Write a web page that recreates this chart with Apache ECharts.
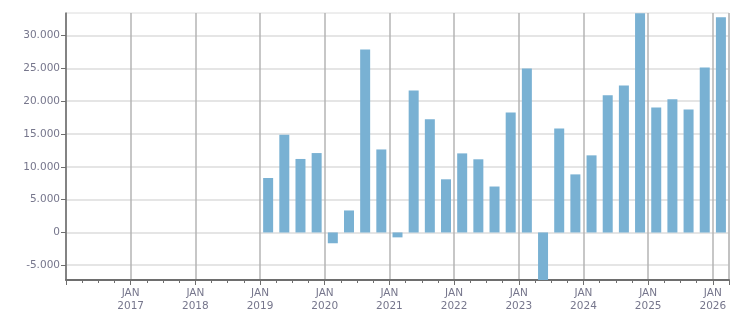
<!DOCTYPE html>
<html>
<head>
<meta charset="utf-8">
<script src="https://cdn.jsdelivr.net/npm/echarts@6/dist/echarts.min.js"></script>
<style>html,body{margin:0;padding:0;background:#fff}#c{width:751px;height:313px}</style>
</head>
<body>
<div id="c"></div>
<script>
const quarters = [
  '2019-Q1','2019-Q2','2019-Q3','2019-Q4',
  '2020-Q1','2020-Q2','2020-Q3','2020-Q4',
  '2021-Q1','2021-Q2','2021-Q3','2021-Q4',
  '2022-Q1','2022-Q2','2022-Q3','2022-Q4',
  '2023-Q1','2023-Q2','2023-Q3','2023-Q4',
  '2024-Q1','2024-Q2','2024-Q3','2024-Q4',
  '2025-Q1','2025-Q2','2025-Q3','2025-Q4',
  '2026-Q1'
];
const values = [
  8300, 14900, 11200, 12100,
  -1650, 3350, 27900, 12650,
  -750, 21650, 17250, 8100,
  12050, 11150, 7000, 18300,
  25000, -7250, 15850, 8850,
  11750, 20900, 22400, 33400,
  19050, 20300, 18750, 25150,
  32800
];
const yearTicks = [2017, 2018, 2019, 2020, 2021, 2022, 2023, 2024, 2025, 2026];
const yTicks = [-5000, 0, 5000, 10000, 15000, 20000, 25000, 30000];

function quarterPos(q) {
  const [y, qq] = q.split('-Q');
  return Number(y) + (Number(qq) - 0.5) / 4;
}
const seriesData = quarters.map((q, i) => [quarterPos(q), values[i]]);

const labelColor = '#76768c';
const chart = echarts.init(document.getElementById('c'));
chart.setOption({
  animation: false,
  grid: { left: 66, right: 22, top: 13, bottom: 32, show: true, borderColor: '#dcdcdc', borderWidth: 1 },
  xAxis: {
    type: 'value',
    min: 2016,
    max: 2026.25,
    interval: 1,
    axisLine: { onZero: false, lineStyle: { color: '#6e6e6e', width: 2 } },
    axisTick: { show: true, length: 5, lineStyle: { color: '#6e6e6e', width: 1 } },
    minorTick: { show: true, splitNumber: 4, length: 3, lineStyle: { color: '#6e6e6e', width: 1 } },
    splitLine: { show: true, lineStyle: { color: '#b4b4b4', width: 1.5 } },
    axisLabel: {
      color: labelColor,
      fontFamily: 'DejaVu Sans',
      fontSize: 10.5,
      lineHeight: 13,
      margin: 7,
      showMinLabel: false,
      showMaxLabel: false,
      formatter: v => yearTicks.includes(v) ? 'JAN\n' + v : ''
    }
  },
  yAxis: {
    type: 'value',
    min: -7250,
    max: 33450,
    splitNumber: 8,
    axisLine: { show: true, onZero: false, lineStyle: { color: '#6e6e6e', width: 1.5 } },
    axisTick: { show: true, length: 5, customValues: yTicks, lineStyle: { color: '#6e6e6e' } },
    splitLine: { show: true, lineStyle: { color: '#dcdcdc', width: 1.5 } },
    axisLabel: {
      color: labelColor,
      fontFamily: 'DejaVu Sans',
      fontSize: 10.5,
      margin: 6,
      customValues: yTicks,
      formatter: v => String(v).replace(/\B(?=(\d{3})+(?!\d))/g, '.')
    }
  },
  series: [{
    type: 'bar',
    data: seriesData,
    barWidth: 10,
    itemStyle: { color: '#79b1d3' }
  }]
});
</script>
</body>
</html>
